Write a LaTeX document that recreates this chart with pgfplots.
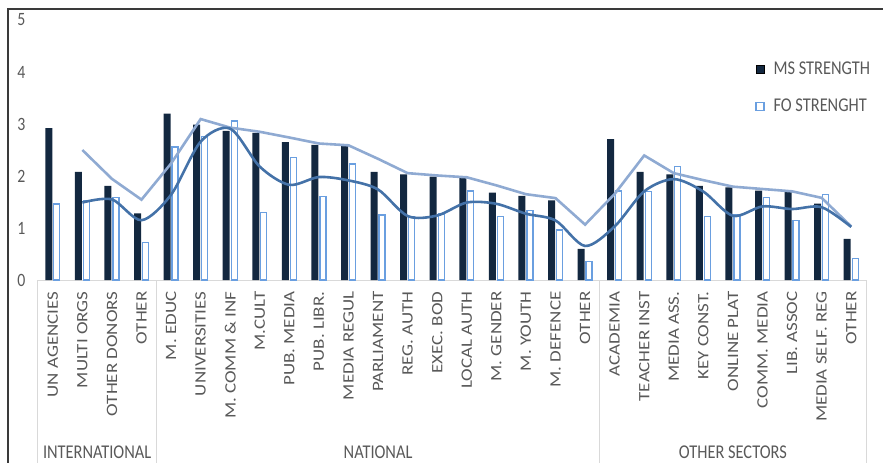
\documentclass[border=0pt]{standalone}
\usepackage{pgfplots}
\pgfplotsset{compat=1.18}
\usepackage{fontspec}
\setmainfont{Carlito}
% category names are set stretched along the text, the rest taller than wide
\newfontfamily\catfont[FakeStretch=1.2]{Carlito}
\newfontfamily\tallfont[FakeStretch=0.84]{Carlito}

\definecolor{msnavy}{HTML}{132840}
\definecolor{foblue}{HTML}{6A9FE0}
\definecolor{avglight}{HTML}{8FAAD2}
\definecolor{avgdark}{HTML}{4472A8}
\definecolor{labelgray}{HTML}{595959}
\definecolor{rulegray}{HTML}{D9D9D9}
\definecolor{framegray}{HTML}{3A3A3A}

\begin{document}
\begin{tikzpicture}
\path[use as bounding box] (-38bp,-183bp) rectangle (845bp,280bp);
\begin{axis}[
  at={(0,0)}, anchor=south west,
  scale only axis, width=828bp, height=260bp,
  xmin=-0.5, xmax=27.5, ymin=0, ymax=5,
  clip=false,
  axis line style={draw=none},
  tick style={draw=none},
  ytick={0,1,2,3,4,5},
  /pgf/number format/assume math mode=true,
  yticklabel style={font=\tallfont\fontsize{18.8bp}{20bp}\selectfont, text=labelgray, xshift=-9bp},
  xtick={0,...,27},
  xticklabels={{UN AGENCIES},{MULTI ORGS},{OTHER DONORS},{OTHER},
    {M. EDUC},{UNIVERSITIES},{M. COMM \& INF},{M.CULT},{PUB. MEDIA},{PUB. LIBR.},
    {MEDIA REGUL},{PARLIAMENT},{REG. AUTH},{EXEC. BOD},{LOCAL AUTH},{M. GENDER},
    {M. YOUTH},{M. DEFENCE},{OTHER},
    {ACADEMIA},{TEACHER INST},{MEDIA ASS.},{KEY CONST.},{ONLINE PLAT},
    {COMM. MEDIA},{LIB. ASSOC},{MEDIA SELF. REG},{OTHER}},
  xticklabel style={rotate=90, anchor=east, xshift=-8bp,
    font=\catfont\fontsize{15.8bp}{18bp}\selectfont, text=labelgray},
  legend style={at={(0.866,0.847)}, anchor=north west, draw=none, fill=none,
    font=\tallfont\fontsize{19.5bp}{21bp}\selectfont, text=labelgray,
    row sep=19bp, inner sep=0pt},
  legend cell align=left,
  legend image code/.code={\draw[#1,/tikz/.cd] (0bp,-4bp) rectangle (8bp,4bp); \path (15bp,0bp);},
]
% baseline and category group dividers
\draw[rulegray, line width=1bp] (axis cs:-0.5,0) -- (axis cs:27.5,0);
\draw[rulegray, line width=1bp] (axis cs:-0.5,0) -- (axis cs:-0.5,-3.7);
\draw[rulegray, line width=1bp] (axis cs:3.5,0) -- (axis cs:3.5,-3.7);
\draw[rulegray, line width=1bp] (axis cs:18.5,0) -- (axis cs:18.5,-3.7);
\draw[rulegray, line width=1bp] (axis cs:27.5,0) -- (axis cs:27.5,-3.7);

\addplot[ybar, bar width=7bp, bar shift=-4bp, fill=msnavy, draw=none]
coordinates {
 (0,2.92) (1,2.08) (2,1.81) (3,1.28)
 (4,3.20) (5,2.99) (6,2.87) (7,2.83) (8,2.65) (9,2.60) (10,2.58) (11,2.08)
 (12,2.03) (13,1.99) (14,1.96) (15,1.68) (16,1.62) (17,1.53) (18,0.60)
 (19,2.71) (20,2.08) (21,2.03) (22,1.81) (23,1.78) (24,1.72) (25,1.69)
 (26,1.47) (27,0.79)
};
\addlegendentry{MS STRENGTH}

\addplot[ybar, bar width=6bp, bar shift=4bp, fill=white, draw=foblue, line width=1.3bp]
coordinates {
 (0,1.46) (1,1.52) (2,1.58) (3,0.72)
 (4,2.56) (5,2.76) (6,3.06) (7,1.30) (8,2.36) (9,1.60) (10,2.23) (11,1.25)
 (12,1.21) (13,1.27) (14,1.71) (15,1.22) (16,1.33) (17,0.96) (18,0.35)
 (19,1.71) (20,1.70) (21,2.18) (22,1.22) (23,1.25) (24,1.58) (25,1.15)
 (26,1.65) (27,0.42)
};
\addlegendentry{FO STRENGHT}

% two-period averages of each series
\addplot[avglight, line width=2.6bp, forget plot] coordinates {
 (1,2.50) (2,1.945) (3,1.545) (4,2.24) (5,3.095) (6,2.93) (7,2.85) (8,2.74)
 (9,2.625) (10,2.59) (11,2.33) (12,2.055) (13,2.01) (14,1.975) (15,1.82)
 (16,1.65) (17,1.575) (18,1.065) (19,1.655) (20,2.395) (21,2.055) (22,1.92)
 (23,1.795) (24,1.75) (25,1.705) (26,1.58) (27,1.03)
};
\addplot[avgdark, line width=2.6bp, smooth, tension=0.5, forget plot] coordinates {
 (1,1.49) (2,1.55) (3,1.15) (4,1.64) (5,2.66) (6,2.91) (7,2.18) (8,1.83)
 (9,1.98) (10,1.915) (11,1.74) (12,1.23) (13,1.24) (14,1.49) (15,1.465)
 (16,1.275) (17,1.145) (18,0.655) (19,1.03) (20,1.705) (21,1.94) (22,1.70)
 (23,1.235) (24,1.415) (25,1.365) (26,1.40) (27,1.02)
};

% group names
\node[font=\tallfont\fontsize{19.5bp}{21bp}\selectfont, text=labelgray] at (axis cs:1.5,-3.31) {INTERNATIONAL};
\node[font=\tallfont\fontsize{19.5bp}{21bp}\selectfont, text=labelgray] at (axis cs:11,-3.31) {NATIONAL};
\node[font=\tallfont\fontsize{19.5bp}{21bp}\selectfont, text=labelgray] at (axis cs:23,-3.31) {OTHER SECTORS};
\end{axis}
% outer chart frame
\draw[framegray, line width=1.3bp] (-30bp,-200bp) -- (-30bp,271bp) -- (900bp,271bp);
\end{tikzpicture}
\end{document}
